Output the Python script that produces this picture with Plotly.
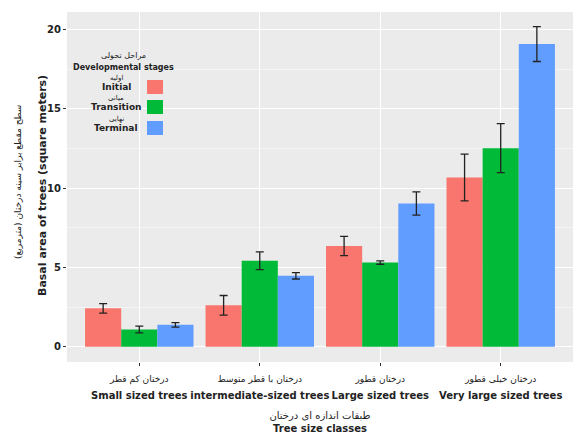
import plotly.graph_objects as go

categories_fa = ["درختان کم قطر", "درختان با قطر متوسط", "درختان قطور", "درختان خیلی قطور"]
categories_en = ["Small sized trees", "intermediate-sized trees", "Large sized trees", "Very large sized trees"]
stages_fa = ["اولیه", "میانی", "نهایی"]
stages_en = ["Initial", "Transition", "Terminal"]
colors = ["#F8766D", "#00BA38", "#619CFF"]

initial = [2.42, 2.61, 6.35, 10.67]
transition = [1.09, 5.42, 5.31, 12.52]
terminal = [1.38, 4.47, 9.03, 19.08]
err_initial = [0.30, 0.62, 0.61, 1.47]
err_transition = [0.21, 0.56, 0.11, 1.55]
err_terminal = [0.14, 0.20, 0.73, 1.10]

values = [initial, transition, terminal]
errors = [err_initial, err_transition, err_terminal]

FONT = "DejaVu Sans"
xs = list(range(len(categories_en)))

fig = go.Figure()
for i in range(3):
    fig.add_trace(go.Bar(
        x=xs, y=values[i], name=stages_en[i],
        marker=dict(color=colors[i], line=dict(width=0)),
        error_y=dict(type="data", array=errors[i], color="#222222", thickness=1.3, width=4),
        showlegend=False,
    ))

ticktext = [f"<span style='font-size:9px'>{fa}</span><br><span style='font-size:10px'><b>{en}</b></span>"
            for fa, en in zip(categories_fa, categories_en)]

fig.update_layout(
    width=585, height=434,
    margin=dict(l=67, r=12, t=12, b=72),
    paper_bgcolor="white", plot_bgcolor="#EBEBEB",
    barmode="group", bargap=0.1, bargroupgap=0,
    font=dict(family=FONT, size=10, color="#222222"),
    xaxis=dict(
        tickmode="array", tickvals=xs, ticktext=ticktext, tickangle=0, automargin=False,
        range=[-0.6, 3.6], showgrid=True, gridcolor="white", gridwidth=1,
        ticks="outside", ticklen=3, tickcolor="#333333", zeroline=False,
        tickfont=dict(size=13, color="#222222"),
        title=dict(text="<span style='font-size:10px'>طبقات اندازه ای درختان</span><br><span style='font-size:10px'><b>Tree size classes</b></span>",
                   font=dict(size=10, color="#222222"), standoff=14),
    ),
    yaxis=dict(
        range=[-0.96, 21.1], tickvals=[0, 5, 10, 15, 20], ticktext=["<b>0</b>", "<b>5</b>", "<b>10</b>", "<b>15</b>", "<b>20</b>"],
        showgrid=True, gridcolor="white", gridwidth=1, zeroline=False, automargin=False,
        ticks="outside", ticklen=3, tickcolor="#333333",
        tickfont=dict(size=10, color="#222222"),
        minor=dict(tickvals=[2.5, 7.5, 12.5, 17.5], showgrid=True, gridcolor="#F5F5F5", gridwidth=0.6, ticks=""),
    ),
)

# y-axis title as two rotated text lines
fig.add_annotation(x=18, y=182, xref="paper", yref="paper", showarrow=False, textangle=-90,
                   xanchor="center", yanchor="middle", text="سطح مقطع برابر سینه درختان (مترمربع)",
                   font=dict(family=FONT, size=9, color="#222222"))
fig.layout.annotations[-1].update(x=(18 - 67) / (573 - 67), y=(362 - 182) / 350)
fig.add_annotation(x=(42 - 67) / (573 - 67), y=(362 - 186) / 350, xref="paper", yref="paper", showarrow=False,
                   textangle=-90, xanchor="center", yanchor="middle",
                   text="<b>Basal area of trees (square meters)</b>",
                   font=dict(family=FONT, size=11, color="#222222"))

# Custom legend (keys to the right of the labels, as in the reference)
def px_x(p):
    return (p - 67) / (573 - 67)

def px_y(p):
    return (362 - p) / (362 - 12)

def label(xp, yp, text, size, bold=False):
    fig.add_annotation(x=px_x(xp), y=px_y(yp), xref="paper", yref="paper", showarrow=False,
                       xanchor="center", yanchor="middle",
                       text=f"<b>{text}</b>" if bold else text,
                       font=dict(family=FONT, size=size, color="#222222"))

label(123, 55, "مراحل تحولی", 8)
label(123, 67, "Developmental stages", 8, bold=True)
key_y = [87, 107, 128]
for i in range(3):
    label(116, key_y[i] - 9, stages_fa[i], 7)
    label(116, key_y[i], stages_en[i], 9, bold=True)
    fig.add_shape(type="rect", xref="paper", yref="paper",
                  x0=px_x(147), x1=px_x(163), y0=px_y(key_y[i] + 7), y1=px_y(key_y[i] - 7),
                  fillcolor=colors[i], line=dict(width=0))

fig.write_html("out.html")
